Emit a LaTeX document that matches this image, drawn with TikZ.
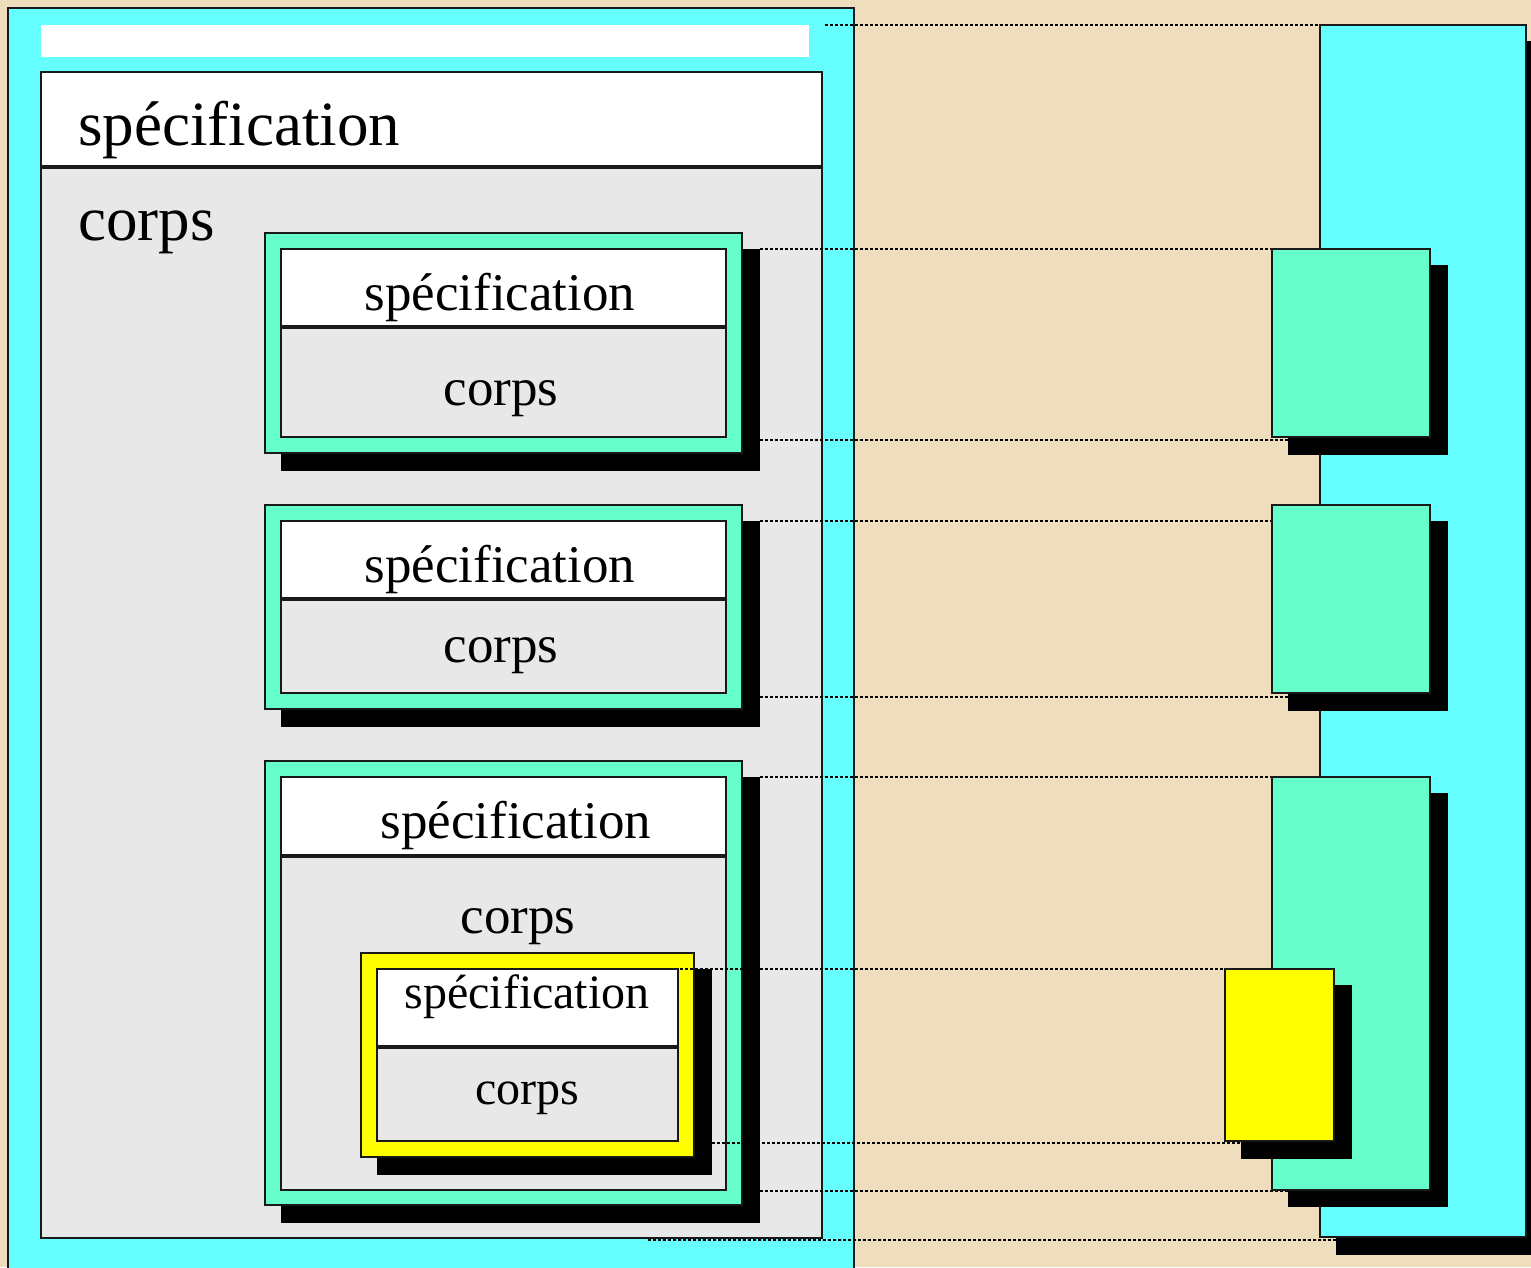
\documentclass[tikz,border=0pt]{standalone}
\usepackage{fontspec}
\setmainfont{Liberation Serif}
\usetikzlibrary{fit}
\definecolor{parch}{RGB}{238,222,190}
\definecolor{cyanb}{RGB}{102,255,255}
\definecolor{tealb}{RGB}{102,255,204}
\definecolor{grayb}{RGB}{232,232,232}
\definecolor{yelb}{RGB}{255,255,0}
\definecolor{edge}{RGB}{25,25,25}
\begin{document}
\begin{tikzpicture}[x=1pt,y=-1pt,
  bx/.style={draw=edge,line width=2pt,inner sep=0pt,outer sep=0pt},
  plain/.style={draw=none,inner sep=0pt,outer sep=0pt},
  shd/.style={fill=black,draw=none,inner sep=0pt,outer sep=0pt},
  dotline/.style={line width=2.8pt,dash pattern=on 2.6pt off 2.4pt,black},
  lbl/.style={inner sep=0pt,anchor=base,text=black},
  lbll/.style={inner sep=0pt,anchor=base west,text=black},
  fbig/.style={font=\fontsize{63}{70}\selectfont},
  fmid/.style={font=\fontsize{53}{60}\selectfont},
  fsml/.style={font=\fontsize{48}{54}\selectfont}]
\clip (0,0) rectangle (1531,1267);
\fill[parch] (0,0) rectangle (1531,1267);

% ---- left: outer module ----
\node[bx,fill=cyanb,fit={(8,8) (854,1290)}] (outer) {};
\node[plain,fill=white,fit={(41,25) (809,57)}] (strip) {};
\node[bx,fill=white,fit={(41,72) (822,166)}] (spec0) {};
\node[bx,fill=grayb,fit={(41,168) (822,1238)}] (corps0) {};
\node[lbll,fbig] (tspec0) at (78,145) {spécification};
\node[lbll,fbig] (tcorps0) at (78,240) {corps};

% ---- box A ----
\node[shd,fit={(281,249) (760,471)}] (shA) {};
\node[bx,fill=tealb,fit={(265,233) (742,453)}] (frA) {};
\node[bx,fill=white,fit={(281,249) (726,326)}] (specA) {};
\node[bx,fill=grayb,fit={(281,328) (726,437)}] (corpsA) {};
\node[lbl,fmid] (tspecA) at (500,310) {spécification};
\node[lbl,fmid] (tcorpsA) at (501,405) {corps};

% ---- box B ----
\node[shd,fit={(281,521) (760,727)}] (shB) {};
\node[bx,fill=tealb,fit={(265,505) (742,709)}] (frB) {};
\node[bx,fill=white,fit={(281,521) (726,598)}] (specB) {};
\node[bx,fill=grayb,fit={(281,600) (726,693)}] (corpsB) {};
\node[lbl,fmid] (tspecB) at (500,582) {spécification};
\node[lbl,fmid] (tcorpsB) at (501,662) {corps};

% ---- box C ----
\node[shd,fit={(281,777) (760,1223)}] (shC) {};
\node[bx,fill=tealb,fit={(265,761) (742,1205)}] (frC) {};
\node[bx,fill=white,fit={(281,777) (726,855)}] (specC) {};
\node[bx,fill=grayb,fit={(281,857) (726,1190)}] (corpsC) {};
\node[lbl,fmid] (tspecC) at (516,838) {spécification};
\node[lbl,fmid] (tcorpsC) at (518,933) {corps};

% ---- yellow box ----
\node[shd,fit={(377,969) (712,1175)}] (shY) {};
\node[bx,fill=yelb,fit={(361,953) (694,1157)}] (frY) {};
\node[bx,fill=white,fit={(377,969) (678,1046)}] (specY) {};
\node[bx,fill=grayb,fit={(377,1048) (678,1141)}] (corpsY) {};
\node[lbl,fsml] (tspecY) at (527,1008) {spécification};
\node[lbl,fsml] (tcorpsY) at (527,1104) {corps};

% ---- dotted guide lines ----
\coordinate (a0) at (825,25);   \coordinate (b0) at (1320,25);
\coordinate (a1) at (760,249);  \coordinate (b1) at (1272,249);
\coordinate (a2) at (760,440);  \coordinate (b2) at (1288,440);
\coordinate (a3) at (760,521);  \coordinate (b3) at (1272,521);
\coordinate (a4) at (760,697);  \coordinate (b4) at (1288,697);
\coordinate (a5) at (760,777);  \coordinate (b5) at (1272,777);
\coordinate (a6) at (680,969);  \coordinate (b6) at (1225,969);
\coordinate (a7) at (712,1143); \coordinate (b7) at (1241,1143);
\coordinate (a8) at (760,1191); \coordinate (b8) at (1288,1191);
\coordinate (a9) at (648,1240); \coordinate (b9) at (1336,1240);
\foreach \i in {0,...,9} { \draw[dotline] (a\i) -- (b\i); }

% ---- right: bars ----
\node[shd,fit={(1336,41) (1544,1255)}] (shR) {};
\node[bx,fill=cyanb,fit={(1320,25) (1526,1237)}] (barR) {};
\node[shd,fit={(1288,265) (1448,455)}] (shR1) {};
\node[bx,fill=tealb,fit={(1272,249) (1430,437)}] (barA) {};
\node[shd,fit={(1288,521) (1448,711)}] (shR2) {};
\node[bx,fill=tealb,fit={(1272,505) (1430,693)}] (barB) {};
\node[shd,fit={(1288,793) (1448,1207)}] (shR3) {};
\node[bx,fill=tealb,fit={(1272,777) (1430,1190)}] (barC) {};
\node[shd,fit={(1241,985) (1352,1159)}] (shRY) {};
\node[bx,fill=yelb,fit={(1225,969) (1334,1141)}] (barY) {};
\end{tikzpicture}
\end{document}
